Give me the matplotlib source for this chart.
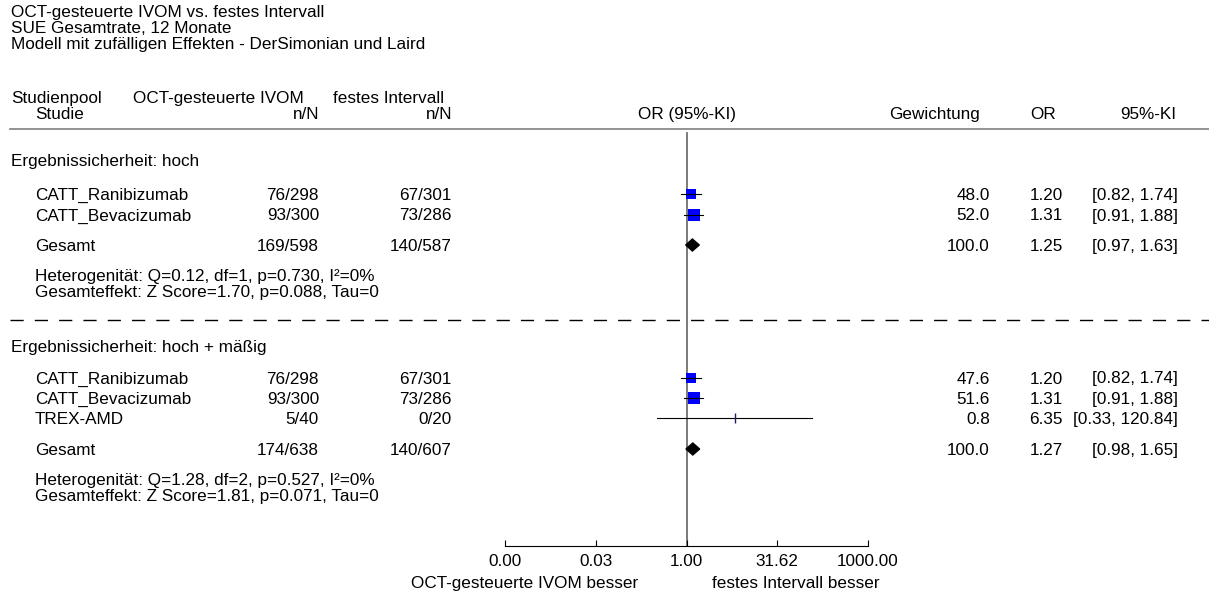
import numpy as np
import matplotlib
matplotlib.use('Agg')
import matplotlib.pyplot as plt

FS = 12.3
plt.rcParams['font.family'] = ['Liberation Sans', 'DejaVu Sans']
plt.rcParams['font.size'] = FS

title_lines = ['OCT-gesteuerte IVOM vs. festes Intervall',
               'SUE Gesamtrate, 12 Monate',
               'Modell mit zufälligen Effekten - DerSimonian und Laird']

# section 1: Ergebnissicherheit hoch
label1 = 'Ergebnissicherheit: hoch'
studies1 = ['CATT_Ranibizumab', 'CATT_Bevacizumab']
oct_n1 = [76, 93]
oct_N1 = [298, 300]
fix_n1 = [67, 73]
fix_N1 = [301, 286]
or1 = [1.20, 1.31]
lo1 = [0.82, 0.91]
hi1 = [1.74, 1.88]
w1 = [48.0, 52.0]
pool1 = dict(on=169, oN=598, fn=140, fN=587, est=1.25, lo=0.97, hi=1.63, w=100.0)
het1 = ['Heterogenität: Q=0.12, df=1, p=0.730, I²=0%',
        'Gesamteffekt: Z Score=1.70, p=0.088, Tau=0']

# section 2: Ergebnissicherheit hoch + maessig
label2 = 'Ergebnissicherheit: hoch + mäßig'
studies2 = ['CATT_Ranibizumab', 'CATT_Bevacizumab', 'TREX-AMD']
oct_n2 = [76, 93, 5]
oct_N2 = [298, 300, 40]
fix_n2 = [67, 73, 0]
fix_N2 = [301, 286, 20]
or2 = [1.20, 1.31, 6.35]
lo2 = [0.82, 0.91, 0.33]
hi2 = [1.74, 1.88, 120.84]
w2 = [47.6, 51.6, 0.8]
pool2 = dict(on=174, oN=638, fn=140, fN=607, est=1.27, lo=0.98, hi=1.65, w=100.0)
het2 = ['Heterogenität: Q=1.28, df=2, p=0.527, I²=0%',
        'Gesamteffekt: Z Score=1.81, p=0.071, Tau=0']

ticks = [1e-3, 10**-1.5, 1.0, 10**1.5, 1e3]
tick_labels = ['0.00', '0.03', '1.00', '31.62', '1000.00']

W, H = 1209, 592
fig = plt.figure(figsize=(W / 100, H / 100), dpi=100)
ax = fig.add_axes([0, 0, 1, 1])
ax.set_xlim(0, W)
ax.set_ylim(H, 0)
ax.axis('off')

X0, X1 = 505, 868
fx = fig.add_axes([X0 / W, 0, (X1 - X0) / W, 1])
fx.set_xscale('log')
fx.set_xlim(1e-3, 1e3)
fx.set_ylim(H, 0)
fx.patch.set_visible(False)
for s in ['left', 'right', 'top']:
    fx.spines[s].set_visible(False)
fx.spines['bottom'].set_position(('data', 546))
fx.spines['bottom'].set_linewidth(0.8)
fx.set_yticks([])
fx.set_xticks(ticks)
fx.set_xticklabels(tick_labels)
fx.minorticks_off()
fx.tick_params(axis='x', direction='in', length=4.5, width=0.8, pad=6, labelsize=FS)

CAP = 6.0  # half cap height in px, for baseline placement


def txt(x, y, s, ha='left'):
    ax.text(x, y + CAP, s, ha=ha, va='baseline', fontsize=FS)


# title + header
for i, t in enumerate(title_lines):
    txt(11, 11.5 + 15.5 * i, t)
txt(11, 97, 'Studienpool')
txt(133, 97, 'OCT-gesteuerte IVOM')
txt(333, 97, 'festes Intervall')
txt(35, 113, 'Studie')
txt(319, 113, 'n/N', 'right')
txt(452, 113, 'n/N', 'right')
txt(687, 113, 'OR (95%-KI)', 'center')
txt(980, 113, 'Gewichtung', 'right')
txt(1043, 113, 'OR', 'center')
txt(1176, 113, '95%-KI', 'right')
ax.plot([10, W], [129, 129], color='#808080', lw=1.2)

# reference line at OR = 1
fx.plot([1, 1], [133, 546], color='#707070', lw=1.3, zorder=1, clip_on=False)


def section(label, ylab, studies, on, oN, fn, fN, est, lo, hi, w, rows, pool, ypool, het, yhet):
    txt(11, ylab, label)
    for i, y in enumerate(rows):
        txt(35, y, studies[i])
        txt(319, y, f'{on[i]}/{oN[i]}', 'right')
        txt(452, y, f'{fn[i]}/{fN[i]}', 'right')
        txt(990, y, f'{w[i]:.1f}', 'right')
        txt(1063, y, f'{est[i]:.2f}', 'right')
        txt(1178, y, f'[{lo[i]:.2f}, {hi[i]:.2f}]', 'right')
        side = 1.55 * np.sqrt(w[i]) * 0.72
        fx.plot(est[i], y, 's', color='#0000ff', ms=side, mew=0, zorder=3, clip_on=False)
        fx.plot([lo[i], hi[i]], [y, y], color='black', lw=0.8, zorder=4, clip_on=False)
        if w[i] < 5:
            fx.plot(est[i], y, '|', color='#202060', ms=6.5, mew=1.0, zorder=5, clip_on=False)
    txt(35, ypool, 'Gesamt')
    txt(319, ypool, f"{pool['on']}/{pool['oN']}", 'right')
    txt(452, ypool, f"{pool['fn']}/{pool['fN']}", 'right')
    txt(990, ypool, f"{pool['w']:.1f}", 'right')
    txt(1063, ypool, f"{pool['est']:.2f}", 'right')
    txt(1178, ypool, f"[{pool['lo']:.2f}, {pool['hi']:.2f}]", 'right')
    fx.fill([pool['lo'], pool['est'], pool['hi'], pool['est']],
            [ypool, ypool - 6, ypool, ypool + 6], color='black', zorder=3, clip_on=False)
    for j, t in enumerate(het):
        txt(35, yhet + 16 * j, t)


section(label1, 160, studies1, oct_n1, oct_N1, fix_n1, fix_N1, or1, lo1, hi1, w1,
        [194, 214.5], pool1, 245, het1, 275)
ax.plot([10, W], [320, 320], color='black', lw=1.0, dashes=(9.5, 8))
section(label2, 346, studies2, oct_n2, oct_N2, fix_n2, fix_N2, or2, lo2, hi2, w2,
        [377.5, 398, 418.3], pool2, 449, het2, 479)

txt(638, 582, 'OCT-gesteuerte IVOM besser', 'right')
txt(712, 582, 'festes Intervall besser')

fig.savefig('out.png', dpi=100)
